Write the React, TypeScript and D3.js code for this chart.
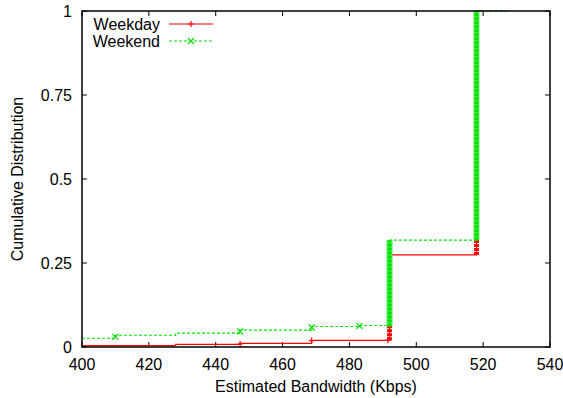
import React from "react";
import * as d3 from "d3";

const xTicks = [400, 420, 440, 460, 480, 500, 520, 540];
const yTicks = [0, 0.25, 0.5, 0.75, 1];
const yTickLabels = ["0", "0.25", "0.5", "0.75", "1"];

const seriesNames = ["Weekday", "Weekend"];
const seriesColors = ["#ff0000", "#00e000"];

// CDF vertices (step outline)
const weekdayX = [400, 428, 428, 447.3, 447.3, 468.7, 468.7, 492, 492, 518, 518, 519.5];
const weekdayY = [0.004, 0.004, 0.008, 0.008, 0.011, 0.011, 0.02, 0.02, 0.274, 0.274, 1, 1];
const weekendX = [400, 410, 410, 428, 428, 447.3, 447.3, 468.7, 468.7, 483, 483, 492, 492, 518, 518, 528];
const weekendY = [0.026, 0.026, 0.035, 0.035, 0.041, 0.041, 0.05, 0.05, 0.061, 0.061, 0.064, 0.064, 0.318, 0.318, 1, 1];

// sampled point markers
const weekdayMarkX = [447.3, 468.7, 491.5];
const weekdayMarkY = [0.009, 0.019, 0.02];
const weekendMarkX = [410, 447.3, 468.7, 483];
const weekendMarkY = [0.03, 0.046, 0.058, 0.063];

// dense runs of points (many samples at one bandwidth)
const weekdayColX = [492, 518];
const weekdayColFrom = [0.02, 0.274];
const weekdayColTo = [0.274, 1];
const weekendColX = [492, 518];
const weekendColFrom = [0.061, 0.318];
const weekendColTo = [0.318, 1];

const W = 563;
const H = 398;
const M = { left: 82, right: 13, top: 11, bottom: 51 };
const FONT = "'Liberation Sans', Arial, sans-serif";
const FS = 16;

export default function App() {
  const x = d3.scaleLinear().domain([400, 540]).range([M.left, W - M.right]);
  const y = d3.scaleLinear().domain([0, 1]).range([H - M.bottom, M.top]);
  const line = d3
    .line<[number, number]>()
    .x((d) => x(d[0]))
    .y((d) => y(d[1]));

  const wd: [number, number][] = weekdayX.map((v, i) => [v, weekdayY[i]]);
  const we: [number, number][] = weekendX.map((v, i) => [v, weekendY[i]]);

  const plus = (cx: number, cy: number, c: string, k: string) => (
    <path key={k} d={`M${cx - 3},${cy}H${cx + 3}M${cx},${cy - 3}V${cy + 3}`} stroke={c} strokeWidth={1.2} fill="none" />
  );
  const cross = (cx: number, cy: number, c: string, k: string) => (
    <path key={k} d={`M${cx - 3},${cy - 3}L${cx + 3},${cy + 3}M${cx - 3},${cy + 3}L${cx + 3},${cy - 3}`} stroke={c} strokeWidth={1.2} fill="none" />
  );

  const x0 = M.left, x1 = W - M.right, y0 = H - M.bottom, y1 = M.top;
  const tl = 5;

  return (
    <svg width={W} height={H} style={{ position: "absolute", left: 0, top: 0, background: "#fff" }} fontFamily={FONT}>
      <rect x={0} y={0} width={W} height={H} fill="#fff" />
      <defs>
        <clipPath id="plot">
          <rect x={x0} y={y1 - 1} width={x1 - x0} height={y0 - y1 + 2} />
        </clipPath>
      </defs>

      {/* ticks */}
      {xTicks.map((t) => (
        <g key={"xt" + t}>
          <line x1={x(t)} x2={x(t)} y1={y0} y2={y0 - tl} stroke="#000" />
          <line x1={x(t)} x2={x(t)} y1={y1} y2={y1 + tl} stroke="#000" />
          <text x={x(t)} y={370} textAnchor="middle" fontSize={FS}>{t}</text>
        </g>
      ))}
      {yTicks.map((t, i) => (
        <g key={"yt" + t}>
          <line x1={x0} x2={x0 + tl} y1={y(t)} y2={y(t)} stroke="#000" />
          <line x1={x1} x2={x1 - tl} y1={y(t)} y2={y(t)} stroke="#000" />
          <text x={72} y={y(t) + 5.5} textAnchor="end" fontSize={FS}>{yTickLabels[i]}</text>
        </g>
      ))}

      <g clipPath="url(#plot)">
        {/* weekday */}
        <path d={line(wd) || ""} stroke={seriesColors[0]} strokeWidth={1.2} fill="none" />
        {weekdayColX.map((c, i) => (
          <line key={"wdc" + i} x1={x(c)} x2={x(c)} y1={y(weekdayColFrom[i])} y2={y(weekdayColTo[i])} stroke={seriesColors[0]} strokeWidth={5} strokeDasharray="3,1" />
        ))}
        {weekdayMarkX.map((m, i) => plus(x(m), y(weekdayMarkY[i]), seriesColors[0], "wdm" + i))}

        {/* weekend */}
        <path d={line(we) || ""} stroke={seriesColors[1]} strokeWidth={1.2} strokeDasharray="3,2" fill="none" />
        {weekendColX.map((c, i) => (
          <g key={"wec" + i}>
            <line x1={x(c)} x2={x(c)} y1={y(weekendColFrom[i])} y2={y(weekendColTo[i])} stroke="#55ee55" strokeWidth={6} />
            <line x1={x(c)} x2={x(c)} y1={y(weekendColFrom[i])} y2={y(weekendColTo[i])} stroke={seriesColors[1]} strokeWidth={4} strokeDasharray="3,1" />
          </g>
        ))}
        {weekendMarkX.map((m, i) => cross(x(m), y(weekendMarkY[i]), seriesColors[1], "wem" + i))}
      </g>

      {/* border */}
      <rect x={x0} y={y1} width={x1 - x0} height={y0 - y1} fill="none" stroke="#000" strokeWidth={1.5} />

      {/* legend */}
      <text x={160} y={29.5} textAnchor="end" fontSize={FS}>{seriesNames[0]}</text>
      <line x1={169} x2={213} y1={24} y2={24} stroke={seriesColors[0]} strokeWidth={1.2} />
      {plus(191, 24, seriesColors[0], "lg0")}
      <text x={160} y={46.5} textAnchor="end" fontSize={FS}>{seriesNames[1]}</text>
      <line x1={169} x2={213} y1={41} y2={41} stroke={seriesColors[1]} strokeWidth={1.2} strokeDasharray="3,2" />
      {cross(191, 41, seriesColors[1], "lg1")}

      {/* axis titles */}
      <text x={(x0 + x1) / 2} y={392} textAnchor="middle" fontSize={FS}>Estimated Bandwidth (Kbps)</text>
      <text transform={`translate(23,${(y0 + y1) / 2}) rotate(-90)`} textAnchor="middle" fontSize={FS}>Cumulative Distribution</text>
    </svg>
  );
}
